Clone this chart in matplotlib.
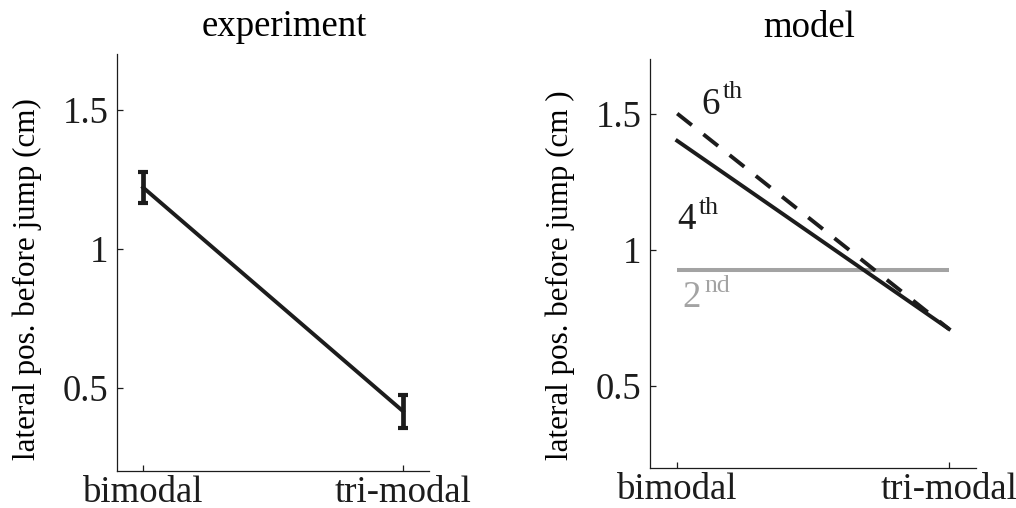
import matplotlib
matplotlib.use("Agg")
import matplotlib.pyplot as plt

plt.rcParams["font.family"] = ["Liberation Serif", "DejaVu Serif"]

# conditions on the x axis
conditions = ["bimodal", "tri-modal"]
cond_x = [1, 2]

# experiment: lateral position before jump (cm), mean and error
exp_mean = [1.22, 0.415]
exp_err = [0.055, 0.06]

# model predictions per filter order
model_6th = [1.50, 0.71]
model_4th = [1.40, 0.71]
model_2nd = [0.925, 0.925]

yticks = [0.5, 1, 1.5]
ytick_labels = ["0.5", "1", "1.5"]

ink = "#1c1c1c"
grey = "#a3a3a3"
tick_fs = 26.5
sup_fs = 18.5
label_fs = 22.4

fig = plt.figure(figsize=(10.16, 5.08), dpi=100)
ax1 = fig.add_axes([0.1152, 0.0728, 0.3071, 0.8209])
ax2 = fig.add_axes([0.6398, 0.0787, 0.3209, 0.8051])


def style_axes(ax):
    ax.set_xlim(0.9, 2.1)
    ax.set_ylim(0.2, 1.7)
    ax.set_xticks(cond_x)
    ax.set_xticklabels(conditions)
    ax.set_yticks(yticks)
    ax.set_yticklabels(ytick_labels)
    for side in ("top", "right"):
        ax.spines[side].set_visible(False)
    for side in ("left", "bottom"):
        ax.spines[side].set_linewidth(0.9)
        ax.spines[side].set_color(ink)
    ax.tick_params(direction="in", length=4, width=0.9, colors=ink,
                   labelsize=tick_fs)
    ax.tick_params(axis="x", pad=3)
    ax.tick_params(axis="y", pad=6)


def order_label(ax, x, y, num, suffix, color):
    # digit plus a raised suffix, offset in points from the digit's baseline
    ax.text(x, y, num, fontsize=tick_fs, color=color, va="baseline", ha="left")
    ax.annotate(suffix, (x, y), xytext=(15.5, 11), textcoords="offset points",
                fontsize=sup_fs, color=color, va="baseline", ha="left")


# left panel: experiment with error bars
style_axes(ax1)
ax1.errorbar(cond_x, exp_mean, yerr=exp_err, color=ink, lw=2.8,
             elinewidth=3.4, capsize=3.5, capthick=3.0)
ax1.set_ylabel("lateral pos. before jump (cm)", fontsize=label_fs)
ax1.yaxis.set_label_coords(-0.24, 0.46)
ax1.text(0.535, 1.043, "experiment", transform=ax1.transAxes, ha="center",
         va="baseline", fontsize=tick_fs)

# right panel: model curves
style_axes(ax2)
ax2.plot(cond_x, model_2nd, color=grey, lw=2.9, solid_capstyle="butt")
ax2.plot(cond_x, model_4th, color=ink, lw=2.8)
ax2.plot(cond_x, model_6th, color=ink, lw=2.8, ls=(0, (4.8, 3.8)))
order_label(ax2, 1.09, 1.50, "6", "th", ink)
order_label(ax2, 1.0, 1.077, "4", "th", ink)
order_label(ax2, 1.02, 0.79, "2", "nd", grey)
ax2.set_ylabel("lateral pos. before jump (cm )", fontsize=label_fs)
ax2.yaxis.set_label_coords(-0.23, 0.472)
ax2.text(0.488, 1.054, "model", transform=ax2.transAxes, ha="center",
         va="baseline", fontsize=tick_fs)

fig.savefig("out.png", dpi=100)
